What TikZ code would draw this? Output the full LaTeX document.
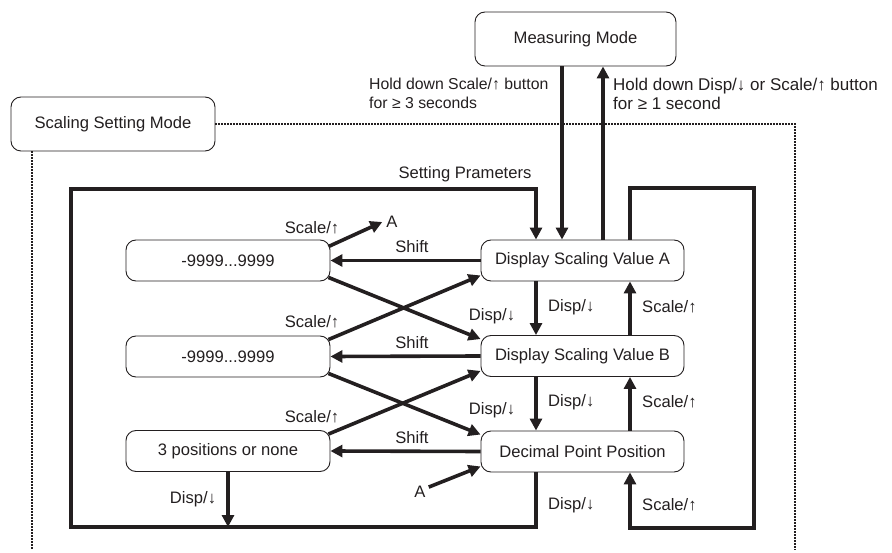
\documentclass[tikz,border=0pt]{standalone}
\usepackage{fontspec}
\setmainfont{Liberation Sans}
\usetikzlibrary{arrows.meta}
\definecolor{ink}{HTML}{231F20}
\begin{document}
\begin{tikzpicture}[x=1pt,y=-1pt,
  font=\fontsize{16.6}{19}\selectfont,
  box/.style={draw=ink, line width=0.9pt, rounded corners=10pt, fill=white,
    minimum height=41pt, minimum width=204pt, inner sep=0pt, text=ink},
  arr/.style={draw=ink, line width=3.6pt, -{Triangle[length=12pt,width=12pt]}},
  dot/.style={draw=ink, line width=1.9pt, dash pattern=on 1.6pt off 1.4pt},
  lbl/.style={text=ink, inner sep=1pt}]
\useasboundingbox (0,0) rectangle (892,553);

% coordinates
\coordinate (FTL) at (71,189);
\coordinate (FBL) at (71,527);
\coordinate (xl) at (536,0);
\coordinate (xr) at (630,0);
\coordinate (xdn) at (562,0);
\coordinate (xup) at (603,0);
\coordinate (RTR) at (754,188);
\coordinate (RBR) at (754,528);
\coordinate (DR) at (795,550);
\coordinate (DL) at (32,550);

% nodes
\node[box, minimum width=201pt, minimum height=54pt] (MM) at (575.5,39) {Measuring Mode};
\node[box, minimum width=204pt, minimum height=54pt] (SSM) at (113,124) {Scaling Setting Mode};
\node[box] (b1) at (228,260.5) {-9999...9999};
\node[box] (b2) at (228,356.5) {-9999...9999};
\node[box] (b3) at (228,451) {3 positions or none};
\node[box, minimum width=203pt] (dA) at (582.5,260.5) {Display Scaling Value A};
\node[box, minimum width=203pt] (dB) at (582.5,356) {Display Scaling Value B};
\node[box, minimum width=203pt] (dP) at (582.5,451.5) {Decimal Point Position};

% dotted mode frame
\draw[dot] (SSM.east) -- (SSM.east -| DR) -- (DR);
\draw[dot] (SSM.south -| DL) -- (DL);

% labels
\node[lbl, anchor=north west, align=left, font=\fontsize{15.8}{19}\selectfont] (h1) at (368,77) {Hold down Scale/↑ button\\for ≥ 3 seconds};
\node[lbl, anchor=north west, align=left, font=\fontsize{17}{19}\selectfont] (h2) at (612,77) {Hold down Disp/↓ or Scale/↑ button\\for ≥ 1 second};
\node[lbl] (sp) at (465,174) {Setting Prameters};
\node[lbl] (s0) at (312,228) {Scale/↑};
\node[lbl] (A1) at (392,222) {A};
\node[lbl] (A2) at (420,492) {A};
\node[lbl] (sh1) at (412,247) {Shift};
\node[lbl] (sh2) at (412,343) {Shift};
\node[lbl] (sh3) at (412,438) {Shift};
\node[lbl] (s1) at (312,322) {Scale/↑};
\node[lbl] (s2) at (312,417) {Scale/↑};
\node[lbl] (d1) at (492,316) {Disp/↓};
\node[lbl] (d2) at (492,410) {Disp/↓};
\node[lbl] (d3) at (193,499) {Disp/↓};
\node[lbl, anchor=west] (r1) at (547,307) {Disp/↓};
\node[lbl, anchor=west] (r2) at (547,402) {Disp/↓};
\node[lbl, anchor=west] (r3) at (547,505) {Disp/↓};
\node[lbl, anchor=west] (u1) at (641,307) {Scale/↑};
\node[lbl, anchor=west] (u2) at (641,402) {Scale/↑};
\node[lbl, anchor=west] (u3) at (641,505) {Scale/↑};

% measuring mode arrows
\draw[arr] (MM.south -| xdn) -- (dA.north -| xdn);
\draw[arr] (dA.north -| xup) -- (MM.south -| xup);

% loops
\draw[arr] (dP.south -| xl) -- (xl |- FBL) -- (FBL) -- (FTL) -- (xl |- FTL) -- (dA.north -| xl);
\draw[arr] (dA.north -| xr) -- (xr |- RTR) -- (RTR) -- (RBR) -- (xr |- RBR) -- (dP.south -| xr);

% vertical arrows between display nodes
\draw[arr] (dA.south -| xl) -- (dB.north -| xl);
\draw[arr] (dB.south -| xl) -- (dP.north -| xl);
\draw[arr] (dB.north -| xr) -- (dA.south -| xr);
\draw[arr] (dP.north -| xr) -- (dB.south -| xr);

% shift arrows
\draw[arr] (dA.west) -- (b1.east);
\draw[arr] (dB.west) -- (b2.east);
\draw[arr] (dP.west) -- (b3.east);

% cross arrows
\draw[arr] ([xshift=-2pt,yshift=4pt]b1.south east) -- ([yshift=-4pt]dB.north west);
\draw[arr] ([xshift=-2pt,yshift=-4pt]b2.north east) -- ([yshift=6pt]dA.south west);
\draw[arr] ([xshift=-2pt,yshift=4pt]b2.south east) -- ([yshift=-4pt]dP.north west);
\draw[arr] ([xshift=-2pt,yshift=-4pt]b3.north east) -- ([yshift=6pt]dB.south west);

% A arrows
\draw[arr] ([xshift=-2pt,yshift=-7pt]b1.north east) -- ([xshift=-3pt]A1.west);
\draw[arr] ([xshift=2pt,yshift=-2pt]A2.north east) -- ([yshift=6pt]dP.south west);

% 3 positions Disp arrow
\draw[arr] (b3.south) -- (b3.south |- FBL);
\end{tikzpicture}
\end{document}
